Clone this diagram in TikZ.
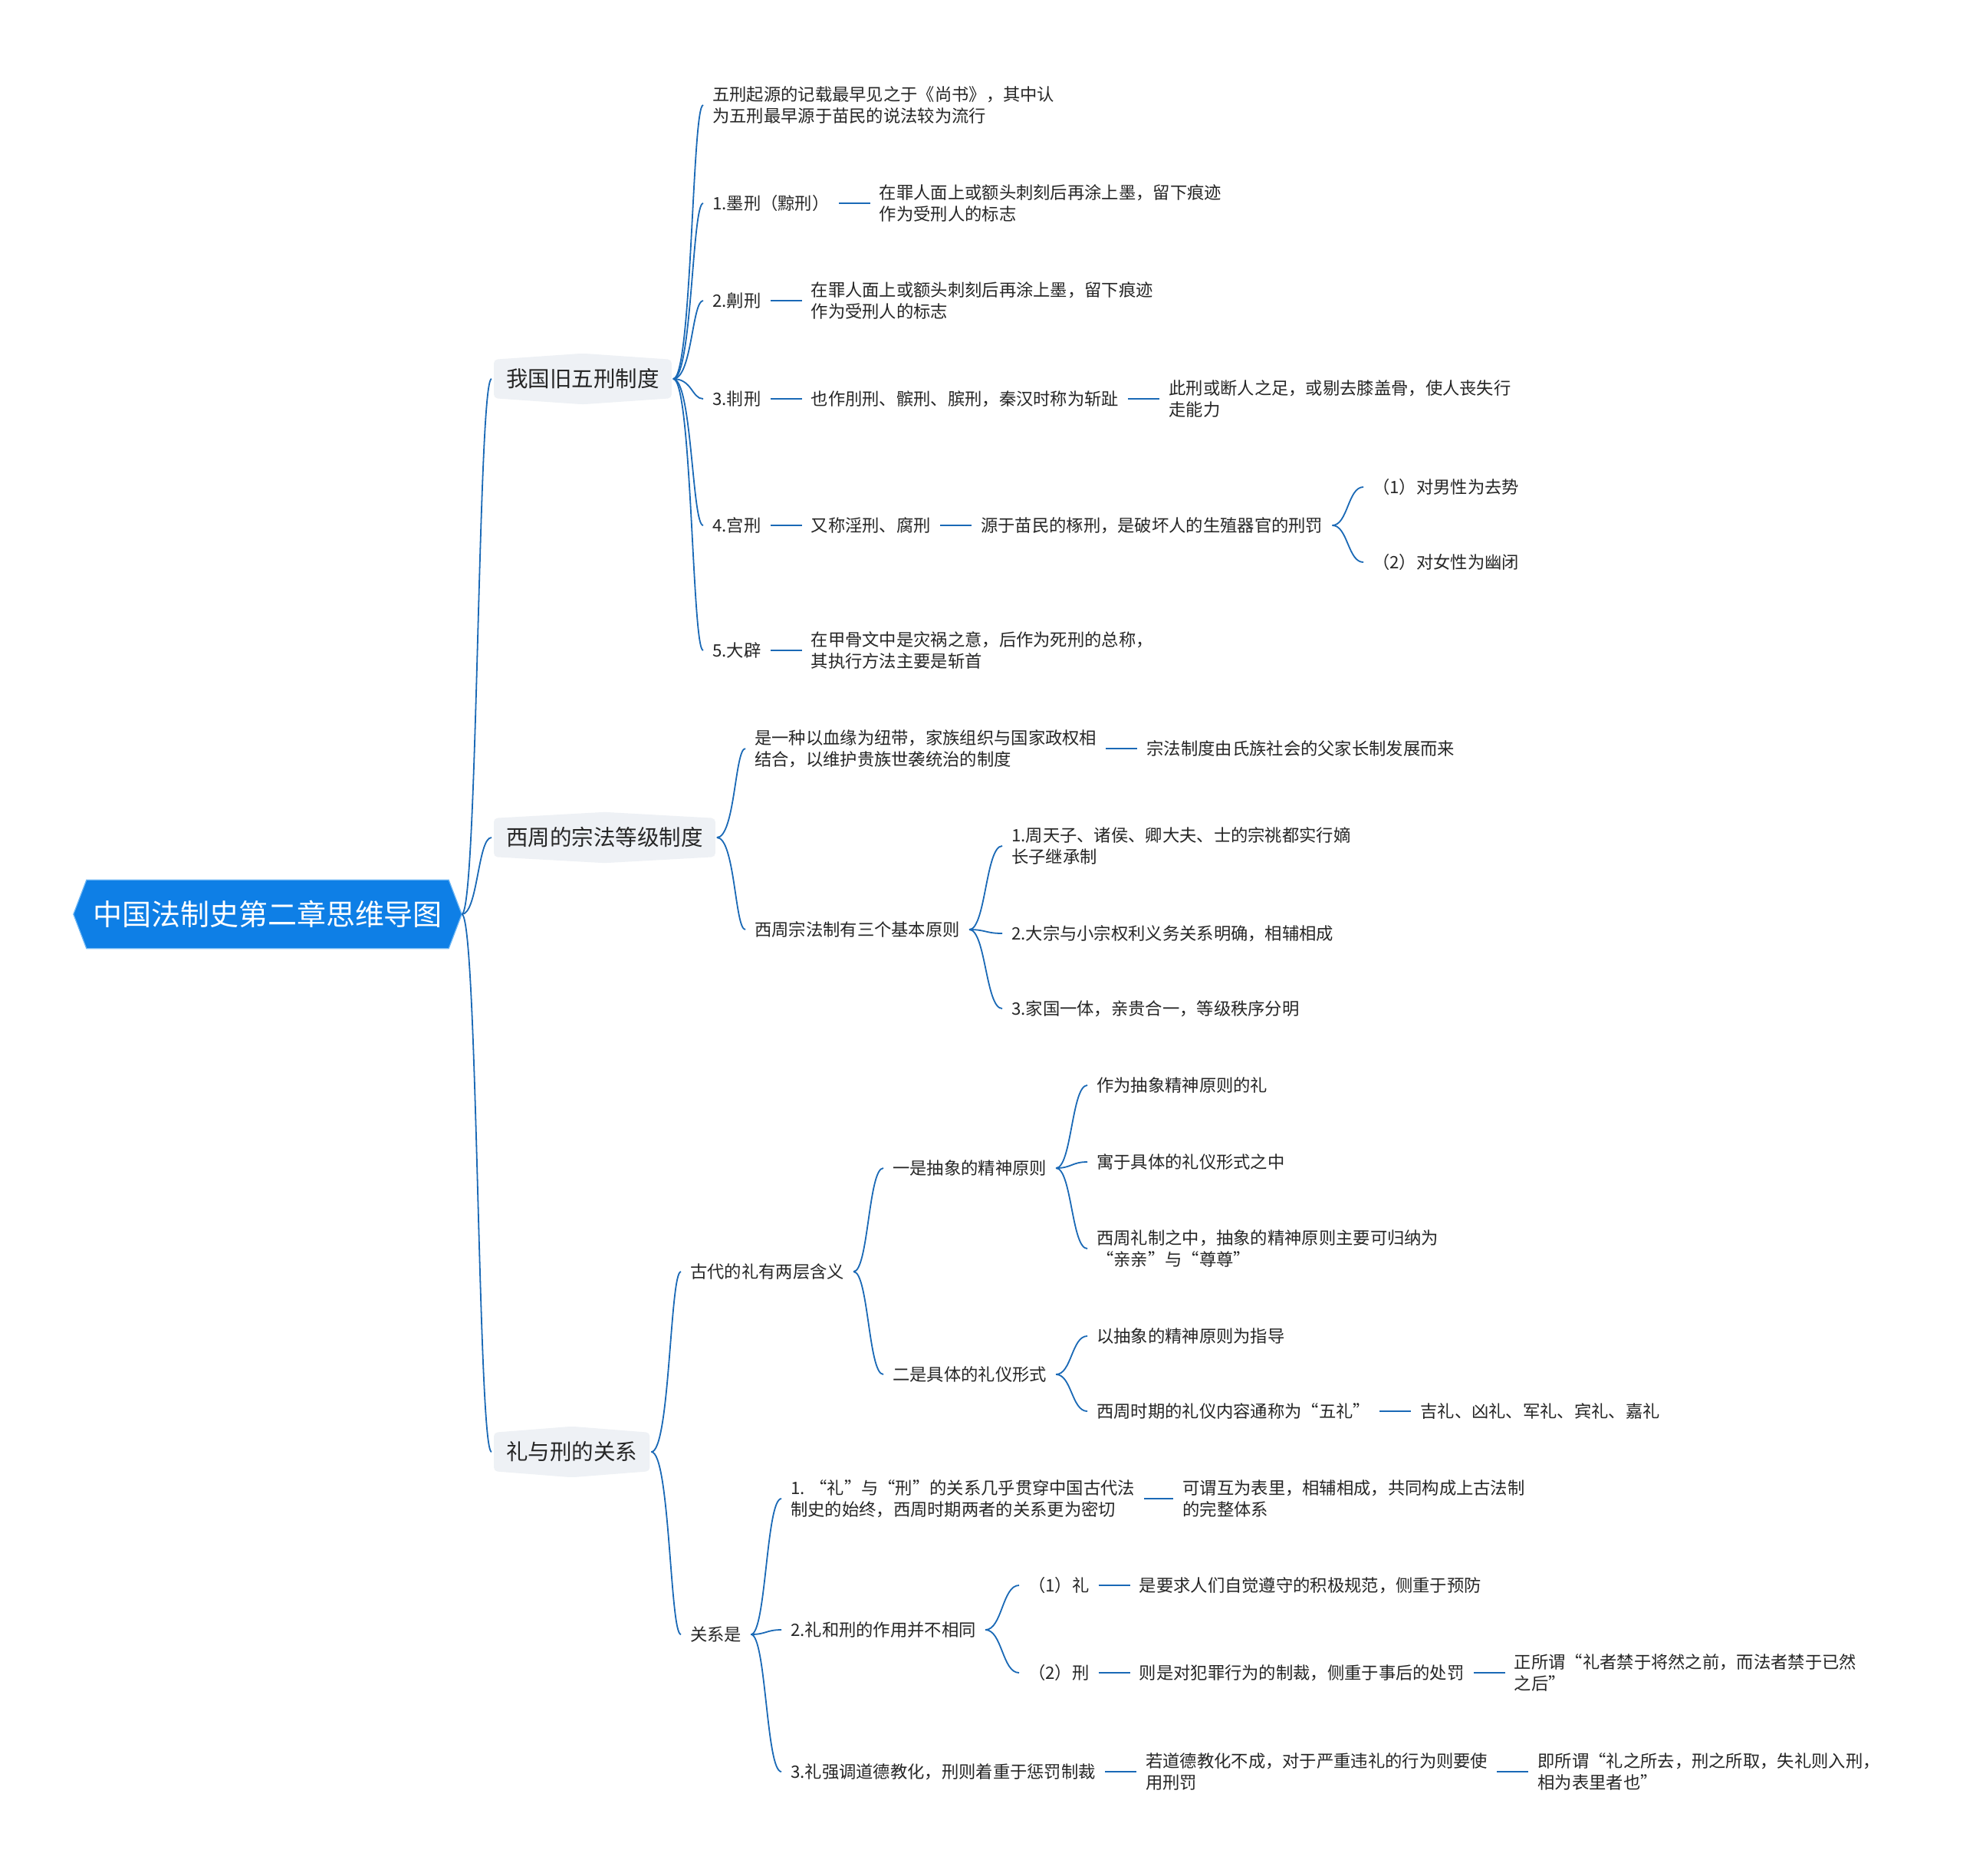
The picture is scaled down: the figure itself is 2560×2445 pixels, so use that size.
\documentclass[tikz,border=0pt]{standalone}
\usepackage{fontspec}
\setmainfont{Noto Sans CJK SC}
\usetikzlibrary{positioning,backgrounds,calc}
\definecolor{ink}{HTML}{262626}
\definecolor{rootblue}{HTML}{0E7FE6}
\definecolor{rootedge}{HTML}{6DB6F4}
\definecolor{topicbg}{HTML}{EEF1F5}
\definecolor{wire}{HTML}{1A69B6}

\begin{document}
\begin{tikzpicture}[
  x=1pt, y=-1pt, color=ink, node distance=65pt,
  root/.style={text=white, font=\fontsize{38}{44}\selectfont, minimum width=472pt,
               minimum height=89pt, inner sep=0pt},
  topic/.style={anchor=west, font=\fontsize{28.5}{34}\selectfont, minimum height=50pt,
                inner xsep=16pt, inner ysep=0pt},
  leaf/.style={anchor=west, font=\fontsize{22.3}{28.5}\selectfont, align=left,
               inner xsep=0pt, inner ysep=2pt},
  branch/.style={draw=wire, line width=1.8pt, shorten <=12pt, shorten >=12pt,
    to path={let \p1=(\tikztostart), \p2=(\tikztotarget) in
      .. controls ({0.5*(\x1+\x2)},\y1) and ({0.5*(\x1+\x2)},\y2) .. (\tikztotarget)}},
  trunk/.style={branch, shorten <=0pt, shorten >=3pt},
  link/.style={draw=wire, line width=2.6pt, shorten <=12pt, shorten >=12pt},
]
\useasboundingbox (0,0) rectangle (2560,2445);
\begin{scope}[on background layer]
  \fill[white] (0,0) rectangle (2560,2445);
\end{scope}

% root and main topics
\node[root] (root) at (349,1192) {中国法制史第二章思维导图};
\coordinate (roottip) at ([xshift=17pt]root.east);
\node[topic] (wuxing) at (644,494) {我国旧五刑制度};
\node[topic] (zongfa) at (644,1092) {西周的宗法等级制度};
\node[topic] (lixing) at (644,1893) {礼与刑的关系};

% 五刑
\node[leaf] (origin) at (929,137) {五刑起源的记载最早见之于《尚书》，其中认\\为五刑最早源于苗民的说法较为流行};
\node[leaf] (mo) at (929,265) {1.墨刑（黥刑）};
\node[leaf, right=of mo] (moA) {在罪人面上或额头刺刻后再涂上墨，留下痕迹\\作为受刑人的标志};
\node[leaf] (yi) at (929,392) {2.劓刑};
\node[leaf, right=of yi] (yiA) {在罪人面上或额头刺刻后再涂上墨，留下痕迹\\作为受刑人的标志};
\node[leaf] (fei) at (929,520) {3.剕刑};
\node[leaf, right=of fei] (feiA) {也作刖刑、髌刑、膑刑，秦汉时称为斩趾};
\node[leaf, right=of feiA] (feiB) {此刑或断人之足，或剔去膝盖骨，使人丧失行\\走能力};
\node[leaf] (gong) at (929,685) {4.宫刑};
\node[leaf, right=of gong] (gongA) {又称淫刑、腐刑};
\node[leaf, right=of gongA] (gongB) {源于苗民的椓刑，是破坏人的生殖器官的刑罚};
\node[leaf] (gongM) at (1790,635) {（1）对男性为去势};
\node[leaf] (gongF) at (1790,733) {（2）对女性为幽闭};
\node[leaf] (dapi) at (929,848) {5.大辟};
\node[leaf, right=of dapi] (dapiA) {在甲骨文中是灾祸之意，后作为死刑的总称，\\其执行方法主要是斩首};

% 宗法
\node[leaf] (blood) at (984,976) {是一种以血缘为纽带，家族组织与国家政权相\\结合，以维护贵族世袭统治的制度};
\node[leaf, right=of blood] (bloodA) {宗法制度由氏族社会的父家长制发展而来};
\node[leaf] (three) at (984,1212) {西周宗法制有三个基本原则};
\node[leaf] (rule1) at (1319,1103) {1.周天子、诸侯、卿大夫、士的宗祧都实行嫡\\长子继承制};
\node[leaf] (rule2) at (1319,1217) {2.大宗与小宗权利义务关系明确，相辅相成};
\node[leaf] (rule3) at (1319,1315) {3.家国一体，亲贵合一，等级秩序分明};

% 礼与刑
\node[leaf] (twofold) at (900,1658) {古代的礼有两层含义};
\node[leaf] (spirit) at (1164,1523) {一是抽象的精神原则};
\node[leaf] (sp1) at (1430,1415) {作为抽象精神原则的礼};
\node[leaf] (sp2) at (1430,1515) {寓于具体的礼仪形式之中};
\node[leaf] (sp3) at (1430,1628) {西周礼制之中，抽象的精神原则主要可归纳为\\“亲亲”与“尊尊”};
\node[leaf] (form) at (1164,1792) {二是具体的礼仪形式};
\node[leaf] (fm1) at (1430,1742) {以抽象的精神原则为指导};
\node[leaf] (fm2) at (1430,1840) {西周时期的礼仪内容通称为“五礼”};
\node[leaf, right=of fm2] (fm2A) {吉礼、凶礼、军礼、宾礼、嘉礼};
\node[leaf] (relation) at (900,2131) {关系是};
\node[leaf] (rel1) at (1031,1954) {1. “礼”与“刑”的关系几乎贯穿中国古代法\\制史的始终，西周时期两者的关系更为密切};
\node[leaf, right=62pt of rel1] (rel1A) {可谓互为表里，相辅相成，共同构成上古法制\\的完整体系};
\node[leaf] (rel2) at (1031,2125) {2.礼和刑的作用并不相同};
\node[leaf] (li) at (1341,2067) {（1）礼};
\node[leaf, right=of li] (liA) {是要求人们自觉遵守的积极规范，侧重于预防};
\node[leaf] (xing) at (1341,2181) {（2）刑};
\node[leaf, right=of xing] (xingA) {则是对犯罪行为的制裁，侧重于事后的处罚};
\node[leaf, right=of xingA] (xingB) {正所谓“礼者禁于将然之前，而法者禁于已然\\之后”};
\node[leaf] (rel3) at (1031,2310) {3.礼强调道德教化，刑则着重于惩罚制裁};
\node[leaf, right=of rel3] (rel3A) {若道德教化不成，对于严重违礼的行为则要使\\用刑罚};
\node[leaf, right=of rel3A] (rel3B) {即所谓“礼之所去，刑之所取，失礼则入刑，\\相为表里者也”};

% shapes behind root and topics
\begin{scope}[on background layer]
  \filldraw[fill=rootblue, draw=rootedge, line width=1.2pt]
    ([xshift=-17pt]root.west) -- (root.north west) -- (root.north east)
    -- (roottip) -- (root.south east) -- (root.south west) -- cycle;
  \foreach \t in {wuxing,zongfa,lixing}
    \fill[topicbg, rounded corners=5pt] (\t.north west) -- ([yshift=8pt]\t.north)
      -- (\t.north east) -- (\t.south east) -- ([yshift=-8pt]\t.south)
      -- (\t.south west) -- cycle;
\end{scope}

% connectors
\foreach \t in {wuxing,zongfa,lixing}
  \draw[trunk] (roottip) to (\t.west);
\foreach \c in {origin,mo,yi,fei,gong,dapi}
  \draw[branch, shorten <=2pt] (wuxing.east) to (\c.west);
\foreach \c in {blood,three}
  \draw[branch, shorten <=2pt] (zongfa.east) to (\c.west);
\foreach \c in {twofold,relation}
  \draw[branch, shorten <=2pt] (lixing.east) to (\c.west);
\foreach \c in {gongM,gongF}
  \draw[branch] (gongB.east) to (\c.west);
\foreach \c in {rule1,rule2,rule3}
  \draw[branch] (three.east) to (\c.west);
\foreach \c in {spirit,form}
  \draw[branch] (twofold.east) to (\c.west);
\foreach \c in {sp1,sp2,sp3}
  \draw[branch] (spirit.east) to (\c.west);
\foreach \c in {fm1,fm2}
  \draw[branch] (form.east) to (\c.west);
\foreach \c in {rel1,rel2,rel3}
  \draw[branch] (relation.east) to (\c.west);
\foreach \c in {li,xing}
  \draw[branch] (rel2.east) to (\c.west);

\draw[link] (mo.east) -- (moA.west);
\draw[link] (yi.east) -- (yiA.west);
\draw[link] (fei.east) -- (feiA.west);
\draw[link] (feiA.east) -- (feiB.west);
\draw[link] (gong.east) -- (gongA.west);
\draw[link] (gongA.east) -- (gongB.west);
\draw[link] (dapi.east) -- (dapiA.west);
\draw[link] (blood.east) -- (bloodA.west);
\draw[link] (fm2.east) -- (fm2A.west);
\draw[link] (rel1.east) -- (rel1A.west);
\draw[link] (li.east) -- (liA.west);
\draw[link] (xing.east) -- (xingA.west);
\draw[link] (xingA.east) -- (xingB.west);
\draw[link] (rel3.east) -- (rel3A.west);
\draw[link] (rel3A.east) -- (rel3B.west);
\end{tikzpicture}
\end{document}
